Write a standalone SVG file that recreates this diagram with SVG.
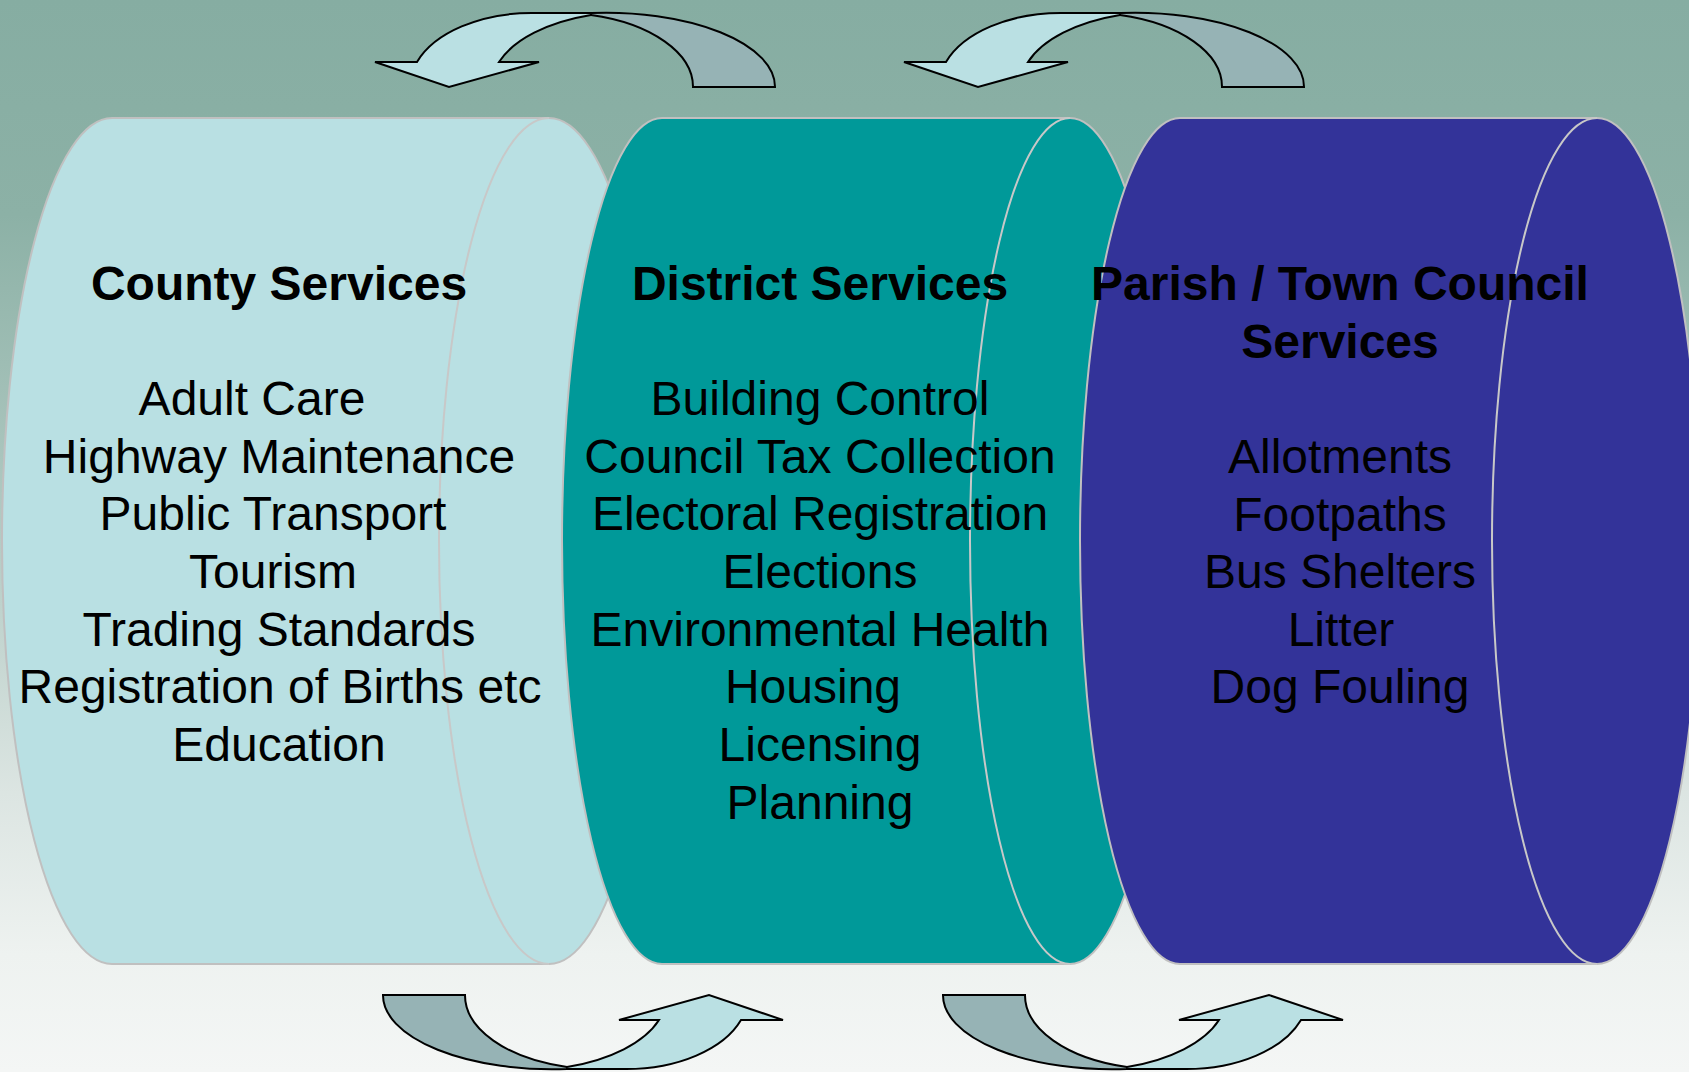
<svg xmlns="http://www.w3.org/2000/svg" xmlns:xlink="http://www.w3.org/1999/xlink" width="1689" height="1072" viewBox="0 0 1689 1072">
  <defs>
    <linearGradient id="bg" x1="0" y1="0" x2="0" y2="1">
      <stop offset="0" stop-color="#86ADA2"/>
      <stop offset="0.2" stop-color="#8CB1A6"/>
      <stop offset="0.5" stop-color="#B3CBC4"/>
      <stop offset="0.74" stop-color="#DCE5E2"/>
      <stop offset="0.89" stop-color="#EEF2F0"/>
      <stop offset="1" stop-color="#F4F6F5"/>
    </linearGradient>
    <g id="curvedArrow">
      <path class="band-dark" d="M383,995 L465,995 A135,74 0 0 0 567,1067 L567,1069 A169,74 0 0 1 383,995 Z"/>
      <path class="band-light" d="M567,1067 A141,74 0 0 0 659,1020 L619,1020 L709,995 L783,1020 L741,1020 A122,74 0 0 1 626,1069 L567,1069 Z"/>
    </g>
  </defs>
  <style>
    .cyl { stroke: #C0C0C0; stroke-width: 2; }
    .cap { fill: none; stroke: #C8C8C8; stroke-width: 2; }
    .county { fill: #B9E0E3; }
    .district { fill: #009999; }
    .parish { fill: #333399; }
    .band-dark { fill: #96B3B5; stroke: #000; stroke-width: 2; stroke-linejoin: miter; }
    .band-light { fill: #BAE0E3; stroke: #000; stroke-width: 2; stroke-linejoin: miter; }
    text { font-family: "Liberation Sans", Arial, sans-serif; font-size: 48px; fill: #000; text-anchor: middle; }
    .title { font-weight: bold; }
  </style>
  <rect x="0" y="0" width="1689" height="1072" fill="url(#bg)"/>

  <g id="county">
    <path class="cyl county" d="M112,118 L549,118 A110,423 0 0 1 549,964 L112,964 A110,423 0 0 1 112,118 Z"/>
    <path class="cap" d="M549,118 A110,423 0 0 0 549,964"/>
    <text class="title" x="279" y="300">County Services</text>
    <text x="252" y="415">Adult Care</text>
    <text x="279" y="473">Highway Maintenance</text>
    <text x="273" y="530">Public Transport</text>
    <text x="273" y="588">Tourism</text>
    <text x="279" y="646">Trading Standards</text>
    <text x="280" y="703">Registration of Births etc</text>
    <text x="279" y="761">Education</text>
  </g>

  <g id="district">
    <path class="cyl district" d="M662,118 L1070,118 A100,423 0 0 1 1070,964 L662,964 A100,423 0 0 1 662,118 Z"/>
    <path class="cap" d="M1070,118 A100,423 0 0 0 1070,964"/>
    <text class="title" x="820" y="300">District Services</text>
    <text x="820" y="415">Building Control</text>
    <text x="820" y="473">Council Tax Collection</text>
    <text x="820" y="530">Electoral Registration</text>
    <text x="820" y="588">Elections</text>
    <text x="820" y="646">Environmental Health</text>
    <text x="813" y="703">Housing</text>
    <text x="820" y="761">Licensing</text>
    <text x="820" y="819">Planning</text>
  </g>

  <g id="parish">
    <path class="cyl parish" d="M1180,118 L1597,118 A103,423 0 0 1 1597,964 L1180,964 A100,423 0 0 1 1180,118 Z"/>
    <path class="cap" d="M1597,118 A105,423 0 0 0 1597,964"/>
    <text class="title" x="1340" y="300">Parish / Town Council</text>
    <text class="title" x="1340" y="358">Services</text>
    <text x="1340" y="473">Allotments</text>
    <text x="1340" y="531">Footpaths</text>
    <text x="1340" y="588">Bus Shelters</text>
    <text x="1341" y="646">Litter</text>
    <text x="1340" y="703">Dog Fouling</text>
  </g>

  <g id="connectors">
    <use xlink:href="#curvedArrow" href="#curvedArrow" transform="rotate(180 579 541)"/>
    <use xlink:href="#curvedArrow" href="#curvedArrow" transform="translate(529,0) rotate(180 579 541)"/>
    <use xlink:href="#curvedArrow" href="#curvedArrow"/>
    <use xlink:href="#curvedArrow" href="#curvedArrow" transform="translate(560,0)"/>
  </g>
</svg>
